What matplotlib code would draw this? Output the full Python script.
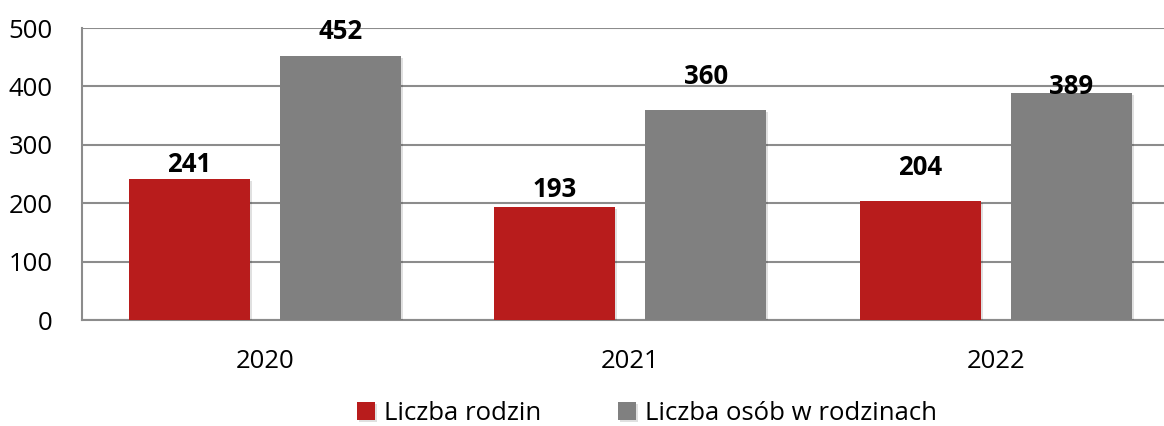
import matplotlib
matplotlib.use("Agg")
import matplotlib.pyplot as plt
import matplotlib.patheffects as pe
import numpy as np

plt.rcParams['font.family'] = ['Open Sans', 'DejaVu Sans']

years = ["2020", "2021", "2022"]
series_names = ["Liczba rodzin", "Liczba osób w rodzinach"]
rodziny = [241, 193, 204]
osoby = [452, 360, 389]
yticks = [0, 100, 200, 300, 400, 500]

colors = ["#B81C1C", "#808080"]
label_offsets = [[1, 3, 14], [8, 14, -5]]  # points above bar top

fig = plt.figure(figsize=(11.64, 4.26), dpi=100)
ax = fig.add_axes([82/1164, 1-320/426, 1096.5/1164, 292/426])

x = np.arange(len(years))
width = 0.331
offset = 0.207
shadow = [pe.SimplePatchShadow(offset=(1.5, -1.5), alpha=0.12, shadow_rgbFace="#000000"), pe.Normal()]

for i, (vals, col) in enumerate(zip([rodziny, osoby], colors)):
    pos = x + (-offset if i == 0 else offset)
    bars = ax.bar(pos, vals, width, color=col, label=series_names[i], zorder=3)
    for b in bars:
        b.set_path_effects(shadow)
    for j, (p, v) in enumerate(zip(pos, vals)):
        ax.annotate(str(v), (p, v), xytext=(0, label_offsets[i][j]), textcoords="offset points",
                    ha="center", va="bottom", fontsize=18.5, fontweight="bold", color="black", zorder=5)

ax.set_xlim(-0.5, 2.5)
ax.set_ylim(0, 500)
ax.set_yticks(yticks)
ax.set_xticks(x)
ax.set_xticklabels(years)
ax.yaxis.grid(True, color="#8C8C8C", linewidth=1.5, zorder=0)
ax.set_axisbelow(True)
for s in ["top", "right"]:
    ax.spines[s].set_visible(False)
for s in ["left", "bottom"]:
    ax.spines[s].set_color("#8C8C8C")
    ax.spines[s].set_linewidth(1.5)
ax.tick_params(axis="both", length=0, labelsize=18.5, colors="black")
ax.tick_params(axis="y", pad=21)
ax.tick_params(axis="x", pad=21)

leg = fig.legend(loc="center", bbox_to_anchor=(647/1164, 1-413/426), ncol=2, frameon=False,
                 fontsize=18.5, handlelength=0.7, handleheight=0.7, handletextpad=0.35,
                 columnspacing=3.0)

fig.savefig("out.png", dpi=100)
